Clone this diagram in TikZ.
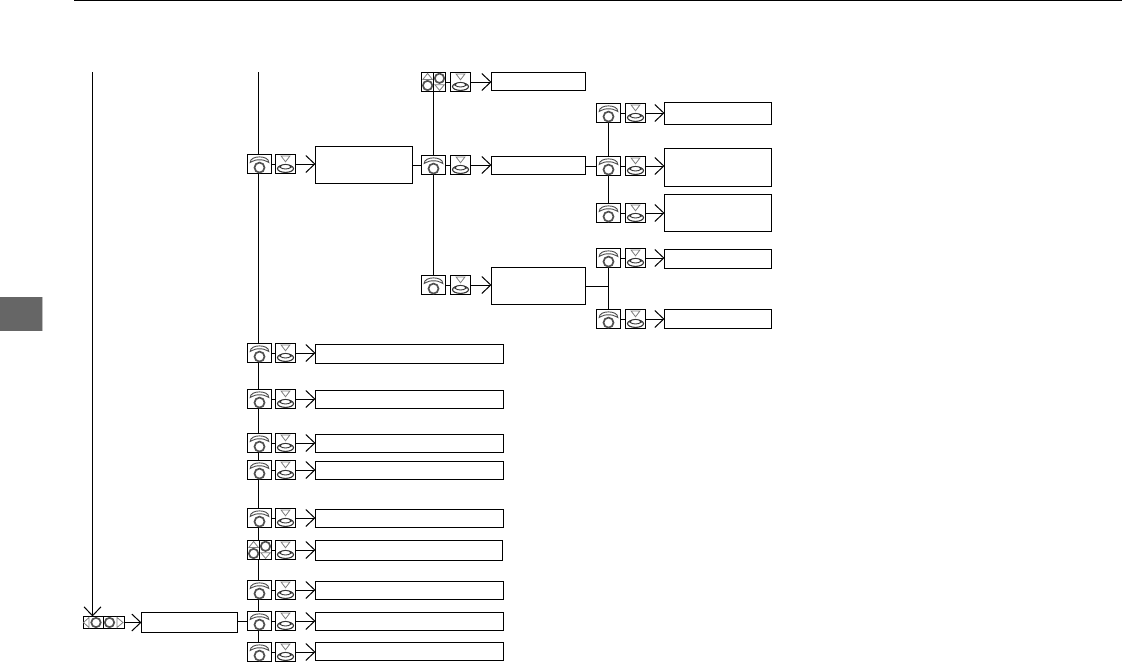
\documentclass[tikz,border=0pt]{standalone}
\usetikzlibrary{arrows.meta}
\tikzset{
  x=1pt,y=-1pt,
  conn/.style={line width=1pt,black},
  arr/.style={conn,-{Straight Barb[length=9pt,width=17pt,line width=1pt]}},
  lab/.style={draw=black,line width=1pt,fill=white,inner sep=0pt,anchor=north west,outer sep=0pt},
  ico/.style={draw=black,line width=1pt,fill=white,inner sep=0pt,outer sep=0pt},
  sym/.style={draw=black!50,line width=.8pt,fill=white},
  hand/.style={draw=black!70,line width=.9pt,fill=white},
  ring/.style={draw=black!68,line width=1.7pt,fill=white},
}
% label box: name, x0, y0, x1, y1
\newcommand{\labbox}[5]{%
  \pgfmathsetmacro{\bw}{#4-#2-1}\pgfmathsetmacro{\bh}{#5-#3}%
  \node[lab,minimum width=\bw pt,minimum height=\bh pt] (#1) at (#2+.5,#3+.5) {};}
% rotary icon
\newcommand{\rotico}[3]{%
  \node[ico,minimum width=24pt,minimum height=19pt] (#1) at (#2,#3) {};
  \begin{scope}[shift={(#2,#3)}]
    \draw[hand] (-9.3,-1.5) .. controls (-9.5,-9) and (9.5,-9) .. (9.3,-1.5)
       .. controls (7.5,-1.5) and (7,-4.2) .. (0,-4.2) .. controls (-7,-4.2) and (-7.5,-1.5) .. (-9.3,-1.5) -- cycle;
    \draw[ring] (0,3.6) circle (5);
  \end{scope}}
% push icon
\newcommand{\pushico}[3]{%
  \node[ico,minimum width=20pt,minimum height=19pt] (#1) at (#2,#3) {};
  \begin{scope}[shift={(#2,#3)}]
    \draw[draw=black!80,line width=1.1pt,fill=white] (0,4.6) ellipse (8 and 3.8);
    \draw[hand,draw=black!80] (-5.6,3.2) .. controls (-5,-.6) and (5,-.6) .. (5.6,3.2) .. controls (3,5.6) and (-3,5.6) .. (-5.6,3.2) -- cycle;
    \draw[sym] (-4.4,-8) -- (4.4,-8) -- (0,-2.2) -- cycle;
  \end{scope}}
% split icon (up/down)
\newcommand{\splitico}[3]{%
  \node[ico,minimum width=24pt,minimum height=19pt] (#1) at (#2,#3) {};
  \begin{scope}[shift={(#2,#3)}]
    \draw[conn] (0,-9.5) -- (0,9.5);
    \draw[sym] (-10.6,-2.6) -- (-1.2,-2.6) -- (-5.9,-8.6) -- cycle;
    \draw[ring] (-5.9,3.5) circle (4.7);
    \draw[ring] (6,-3.7) circle (4.7);
    \draw[sym] (1.4,2.8) -- (10.8,2.8) -- (6.1,8.4) -- cycle;
  \end{scope}}
% left/right icon
\newcommand{\lrico}[3]{%
  \node[ico,minimum width=41pt,minimum height=12pt] (#1) at (#2,#3) {};
  \begin{scope}[shift={(#2,#3)}]
    \draw[conn] (0,-6) -- (0,6);
    \draw[sym] (-14.5,-5) -- (-14.5,5) -- (-20,0) -- cycle;
    \draw[ring] (-7.5,0) circle (4.7);
    \draw[ring] (6,0) circle (4.7);
    \draw[sym] (13.5,-5) -- (13.5,5) -- (19.5,0) -- cycle;
  \end{scope}}
\begin{document}
\begin{tikzpicture}
\useasboundingbox (0,0) rectangle (1122,662);
% page furniture
\fill[black] (74,0) rectangle (1122,1.2);
\fill[black!60] (0,297) rectangle (42,331);
\fill[black!25] (42,297) rectangle (43,331);
% free ends
\coordinate (topL) at (92.5,72);
\coordinate (topM) at (258.5,72);
\splitico{sa}{433.5}{82}
\rotico{ra}{433.5}{165}
\rotico{rb}{433.5}{285}
\rotico{r1}{259.5}{164}
\rotico{r9}{259.5}{652}
\rotico{c1}{608.5}{113}
\rotico{c2}{608.5}{166}
\rotico{c3}{608.5}{213}
\rotico{c4}{608.5}{258}
\rotico{c5}{608.5}{319}
\draw[conn] (topM) -- (r1.north -| topM);
\draw[conn] (r1.south -| topM) -- (r9.north -| topM);
\draw[conn] (sa.south) -- (ra.north);
\draw[conn] (ra.south) -- (rb.north);
\draw[conn] (c1.south) -- (c2.north);
\draw[conn] (c2.south) -- (c3.north);
\draw[conn] (c4.south) -- (c5.north);
% rows in the main column
\rotico{r2}{259.5}{353}
\rotico{r3}{259.5}{399}
\rotico{r4}{259.5}{443}
\rotico{r5}{259.5}{470}
\rotico{r6}{259.5}{518}
\splitico{r7}{259.5}{550}
\rotico{r8}{259.5}{590}
\rotico{rx}{259.5}{621}
\pushico{p1}{285.5}{164}
\pushico{p2}{285.5}{353}
\pushico{p3}{285.5}{399}
\pushico{p4}{285.5}{443}
\pushico{p5}{285.5}{470}
\pushico{p6}{285.5}{518}
\pushico{p7}{285.5}{550}
\pushico{p8}{285.5}{590}
\pushico{px}{285.5}{621}
\pushico{p9}{285.5}{652}
\pushico{pa}{460.5}{82}
\pushico{pb}{460.5}{165}
\pushico{pc}{460.5}{285}
\pushico{q1}{635.5}{113}
\pushico{q2}{635.5}{166}
\pushico{q3}{635.5}{213}
\pushico{q4}{635.5}{258}
\pushico{q5}{635.5}{319}
% labels
\labbox{b1}{315}{146}{413}{183}
\labbox{b2}{315}{344}{504}{363}
\labbox{b3}{315}{390}{504}{408}
\labbox{b4}{315}{434}{504}{452}
\labbox{b5}{315}{461}{504}{479}
\labbox{b6}{315}{509}{504}{527}
\labbox{b7}{315}{540}{503}{560}
\labbox{b8}{315}{581}{504}{599}
\labbox{bx}{315}{612}{504}{630}
\labbox{b9}{315}{642}{504}{660}
\labbox{ba}{491}{72}{586}{90}
\labbox{bb}{491}{156}{586}{174}
\labbox{bc}{491}{267}{586}{304}
\labbox{d1}{664}{102}{772}{124}
\labbox{d2}{664}{148}{772}{186}
\labbox{d3}{664}{194}{772}{231}
\labbox{d4}{664}{249}{772}{268}
\labbox{d5}{664}{309}{772}{328}
\labbox{m}{141}{612}{238}{632}
\lrico{lr}{103.5}{622.5}
% icon to icon
\foreach \u/\v in {r1/p1,r2/p2,r3/p3,r4/p4,r5/p5,r6/p6,r7/p7,r8/p8,rx/px,r9/p9,sa/pa,ra/pb,rb/pc,c1/q1,c2/q2,c3/q3,c4/q4,c5/q5}
  \draw[conn] (\u.east) -- (\v.west);
% arrows
\foreach \u/\v in {p1/b1,p2/b2,p3/b3,p4/b4,p5/b5,p6/b6,p7/b7,p8/b8,px/bx,p9/b9,pa/ba,pb/bb,pc/bc,q1/d1,q2/d2,q3/d3,q4/d4,q5/d5}
  \draw[arr] (\u.east) -- (\u.east -| \v.west);
\draw[arr] (lr.east) -- (lr.east -| m.west);
\draw[arr] (topL) -- (lr.north -| topL);
% box to next level
\draw[conn] (b1.east |- ra) -- (ra.west);
\draw[conn] (bb.east |- c2) -- (c2.west);
\draw[conn] (bc.east) -- (bc.east -| c4);
\draw[conn] (m.east |- rx) -- (rx.west);
\end{tikzpicture}
\end{document}
